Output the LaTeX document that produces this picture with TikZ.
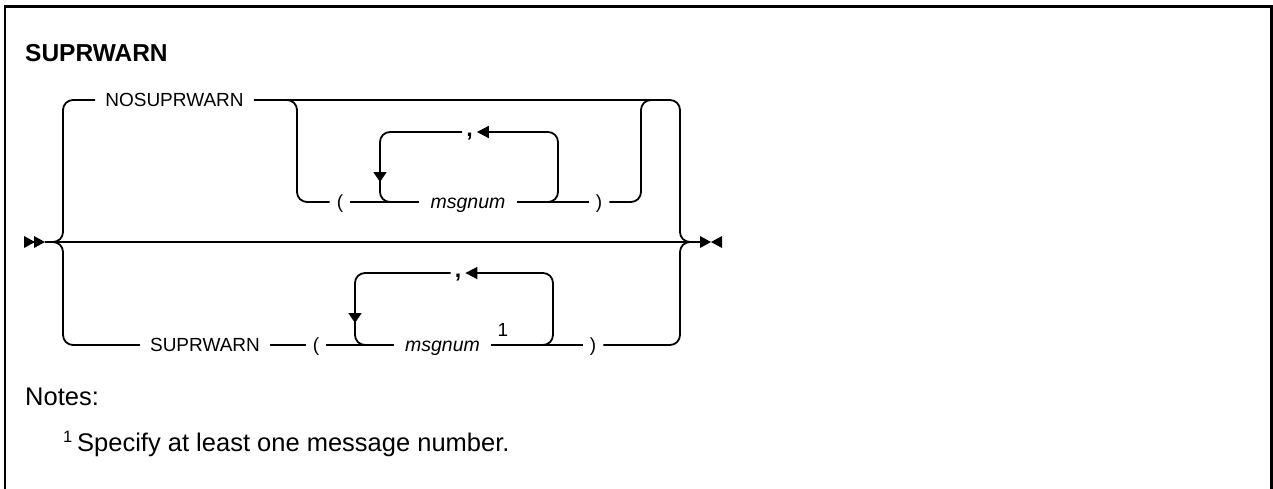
\documentclass[tikz,border=0pt]{standalone}
\usepackage{fontspec}
\setmainfont{Liberation Sans}
\usetikzlibrary{arrows.meta}
\begin{document}
\begin{tikzpicture}[x=1pt,y=-1pt,
  rr/.style={line width=1.8pt},
  lbl/.style={font=\fontsize{19}{22}\selectfont, inner xsep=10pt, inner ysep=0pt, text height=13pt, text depth=0pt},
  var/.style={lbl, font=\fontsize{19.5}{22}\selectfont\itshape, inner xsep=11pt},
  par/.style={lbl, inner xsep=7pt},
  cma/.style={lbl, font=\fontsize{23}{24}\selectfont\bfseries, inner xsep=4pt},
  tipL/.style={-{Triangle[length=12pt,width=12pt]}},
  tipD/.style={-{Triangle[length=10pt,width=13pt]}},
  txt/.style={font=\fontsize{25.5}{28}\selectfont, inner sep=0pt, anchor=base west},
  rc/.style={rr, rounded corners=10pt}
]
\useasboundingbox (0,0) rectangle (1273,488);
\draw[line width=2.5pt] (5,492) -- (5,6.5) -- (1271.5,6.5) -- (1271.5,492);

% title
\node[txt, font=\fontsize{24.5}{28}\selectfont\bfseries] (title) at (25,61.7) {SUPRWARN};

% main line and terminators
\coordinate (in) at (45,242);
\coordinate (out) at (700,242);
\fill (24,236) -- (35,242) -- (24,248) -- cycle;
\fill (34,236) -- (45,242) -- (34,248) -- cycle;
\draw[rr] (in) -- (out);
\fill (700,236) -- (711,242) -- (700,248) -- cycle;
\fill (722,236) -- (711,242) -- (722,248) -- cycle;

% labels
\node[lbl] (nosup) at (174.5,100) {NOSUPRWARN};
\node[par] (lpA) at (340,202) {(};
\node[var] (msgA) at (468,202) {msgnum};
\node[par] (rpA) at (599,202) {)};
\node[cma] (cA) at (469.5,130) {,};

\node[lbl] (sup) at (205,345) {SUPRWARN};
\node[par] (lpE) at (316,345) {(};
\node[var] (msgE) at (442.5,345) {msgnum};
\node[lbl, inner sep=0pt] (one) at (503,329.5) {1};
\node[par] (rpE) at (593,345) {)};
\node[cma] (cE) at (458,271) {,};

% left brace
\draw[rc] (53,242) -| (63,100) -- (nosup.west);
\draw[rc] (53,242) -| (63,345) -- (sup.west);
% right brace
\draw[rc] (nosup.east) -| (680,242) -- (690,242);
\draw[rc] (rpE.east) -| (680,242) -- (690,242);

% upper optional group
\draw[rc] (287,100) -| (297,202) -- (lpA.west);
\draw[rr] (lpA.east) -- (msgA.west);
\draw[rr] (msgA.east) -- (rpA.west);
\draw[rc] (rpA.east) -| (641,100) -- (651,100);
% upper repeat loop
\draw[rc, tipD] (cA.west |- 0,132) -| (380,182);
\draw[rc] (380,180) |- (390,202);
\draw[rc, tipL] (548,202) -| (558,132) -- (cA.east |- 0,132);

% lower group
\draw[rr] (sup.east) -- (lpE.west);
\draw[rr] (lpE.east) -- (msgE.west);
\draw[rr] (msgE.east) -- (rpE.west);
% lower repeat loop
\draw[rc, tipD] (cE.west |- 0,273) -| (355,323);
\draw[rc] (355,321) |- (365,345);
\draw[rc, tipL] (543,345) -| (553,273) -- (cE.east |- 0,273);

% notes
\node[txt] (notes) at (25,405) {Notes:};
\node[txt, font=\fontsize{16.5}{18}\selectfont] (fn) at (63,442) {1};
\node[txt] (fntext) at (77,451) {Specify at least one message number.};
\end{tikzpicture}
\end{document}
